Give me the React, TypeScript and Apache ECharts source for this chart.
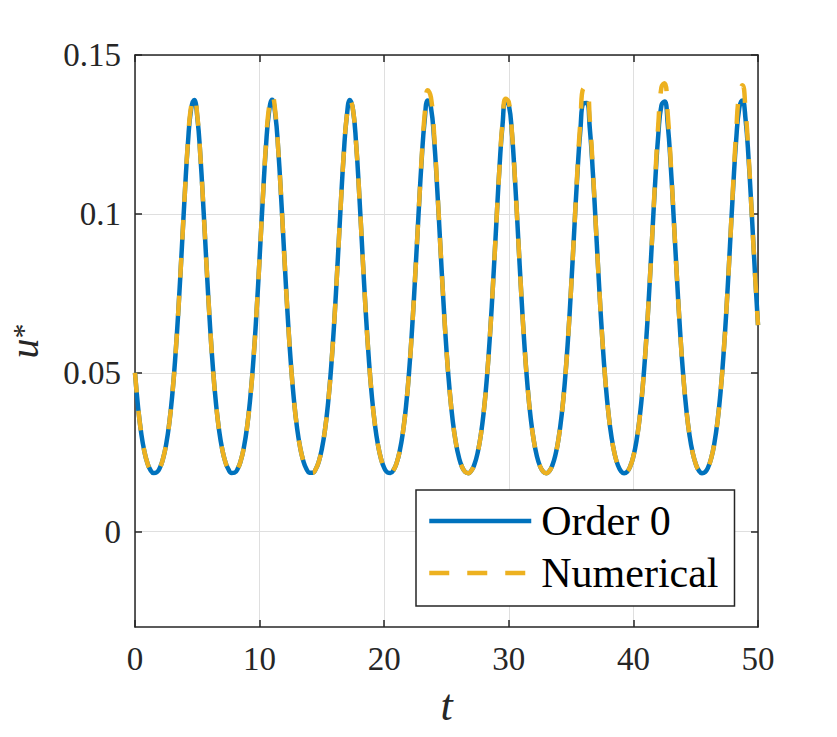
import React, { useEffect, useRef } from "react";
import * as echarts from "echarts";

// Sampling of the time axis (t), one reading every 0.25 from t = 0 to t = 50
const T_START = 0;
const T_STEP = 0.25;

// u* readings, Order 0 (solid blue)
const ORDER0 = [
  0.05, 0.03904, 0.03096, 0.02529, 0.02155, 0.01935, 0.01844, 0.01869, 0.02014, 0.02297,
  0.02749, 0.03413, 0.04342, 0.05571, 0.07101, 0.08855, 0.10657, 0.12236, 0.13289, 0.13582,
  0.13044, 0.11803, 0.10124, 0.08312, 0.06612, 0.05169, 0.04032, 0.03188, 0.02592, 0.02195,
  0.01957, 0.01849, 0.01859, 0.01987, 0.0225, 0.02677, 0.03312, 0.04202, 0.0539, 0.06882,
  0.08614, 0.10424, 0.12051, 0.1319, 0.13591, 0.13161, 0.12001, 0.10362, 0.08551, 0.06825,
  0.05343, 0.04166, 0.03284, 0.02659, 0.02238, 0.01981, 0.01857, 0.01852, 0.01963, 0.02207,
  0.0261, 0.03213, 0.04067, 0.05214, 0.06668, 0.08376, 0.10189, 0.11856, 0.13077, 0.13586,
  0.13264, 0.12188, 0.10596, 0.08791, 0.07043, 0.05523, 0.04304, 0.03386, 0.02729, 0.02284,
  0.02007, 0.01867, 0.01845, 0.01941, 0.02166, 0.02546, 0.0312, 0.03938, 0.05044, 0.06458,
  0.08138, 0.0995, 0.11654, 0.12951, 0.13566, 0.13354, 0.12367, 0.10826, 0.09033, 0.07264,
  0.05707, 0.04448, 0.03492, 0.02803, 0.02333, 0.02035, 0.01878, 0.01842, 0.01922, 0.02128,
  0.02485, 0.03031, 0.03813, 0.0488, 0.06254, 0.07904, 0.0971, 0.11445, 0.12813, 0.1353,
  0.1343, 0.12536, 0.11051, 0.09274, 0.07489, 0.05898, 0.04597, 0.03602, 0.02881, 0.02384,
  0.02066, 0.01892, 0.0184, 0.01904, 0.02093, 0.02427, 0.02946, 0.03694, 0.04721, 0.06054,
  0.07673, 0.09468, 0.11229, 0.12664, 0.1348, 0.13491, 0.12694, 0.11272, 0.09516, 0.07719,
  0.06094, 0.04752, 0.03718, 0.02962, 0.02439, 0.02099, 0.01907, 0.0184, 0.01889, 0.0206,
  0.02374, 0.02865, 0.0358, 0.04567, 0.05859, 0.07444, 0.09226, 0.11007, 0.12503, 0.13416,
  0.13538, 0.12841, 0.11487, 0.09757, 0.0795, 0.06294, 0.04912, 0.03838, 0.03048, 0.02497,
  0.02135, 0.01925, 0.01842, 0.01876, 0.02029, 0.02323, 0.02788, 0.0347, 0.04419, 0.0567,
  0.07219, 0.08983, 0.1078, 0.12332, 0.13337, 0.13571, 0.12977, 0.11695, 0.09998, 0.08186,
  0.065,
];

// u* readings, Numerical (dashed yellow)
const NUMERICAL = [
  0.05, 0.03904, 0.03096, 0.02529, 0.02155, 0.01935, 0.01844, 0.01869, 0.02014, 0.02297,
  0.02749, 0.03413, 0.04342, 0.05571, 0.07101, 0.08855, 0.10657, 0.1228, 0.1337, 0.1366,
  0.1309, 0.11803, 0.10124, 0.08312, 0.06612, 0.05169, 0.04032, 0.03188, 0.02592, 0.02195,
  0.01957, 0.01849, 0.01859, 0.01987, 0.0225, 0.02677, 0.03312, 0.04202, 0.0539, 0.06882,
  0.08614, 0.10424, 0.1213, 0.1334, 0.1374, 0.1325, 0.12001, 0.10362, 0.08551, 0.06825,
  0.05343, 0.04166, 0.03284, 0.02659, 0.02238, 0.01981, 0.01857, 0.01852, 0.01963, 0.02207,
  0.0261, 0.03213, 0.04067, 0.05214, 0.06668, 0.08376, 0.10189, 0.11856, 0.13077, 0.13586,
  0.13264, 0.12188, 0.10596, 0.08791, 0.07043, 0.05523, 0.04304, 0.03386, 0.02729, 0.02284,
  0.02007, 0.01867, 0.01845, 0.01941, 0.02166, 0.02546, 0.0312, 0.03938, 0.05044, 0.06458,
  0.08138, 0.0995, 0.1172, 0.1314, 0.1389, 0.1367, 0.1254, 0.1089, 0.09033, 0.07264,
  0.05707, 0.04448, 0.03492, 0.02803, 0.02333, 0.02035, 0.01878, 0.01842, 0.01922, 0.02128,
  0.02485, 0.03031, 0.03813, 0.0488, 0.06254, 0.07904, 0.0971, 0.11445, 0.1289, 0.1362,
  0.1352, 0.1258, 0.11051, 0.09274, 0.07489, 0.05898, 0.04597, 0.03602, 0.02881, 0.02384,
  0.02066, 0.01892, 0.0184, 0.01904, 0.02093, 0.02427, 0.02946, 0.03694, 0.04721, 0.06054,
  0.07673, 0.09468, 0.1133, 0.1293, 0.1395, 0.1396, 0.1296, 0.1137, 0.09516, 0.07719,
  0.06094, 0.04752, 0.03718, 0.02962, 0.02439, 0.02099, 0.01907, 0.0184, 0.01889, 0.0206,
  0.02374, 0.02865, 0.0358, 0.04567, 0.05859, 0.07444, 0.09226, 0.1112, 0.1282, 0.1398,
  0.1411, 0.1316, 0.116, 0.09757, 0.0795, 0.06294, 0.04912, 0.03838, 0.03048, 0.02497,
  0.02135, 0.01925, 0.01842, 0.01876, 0.02029, 0.02323, 0.02788, 0.0347, 0.04419, 0.0567,
  0.07219, 0.08983, 0.1088, 0.1259, 0.138, 0.1405, 0.1325, 0.118, 0.09998, 0.08186,
  0.065,
];

const SERIES_NAMES = ["Order 0", "Numerical"];
const X_TICKS = [0, 10, 20, 30, 40, 50];
const Y_TICKS = [0, 0.05, 0.1, 0.15];

const FONT = "Liberation Serif";
const AX = "#262626";
const GRID = "#dfdfdf";

export default function App() {
  const ref = useRef<HTMLDivElement>(null);

  useEffect(() => {
    if (!ref.current) return;
    const chart = echarts.init(ref.current, null, { renderer: "svg" });

    const toPairs = (vals: number[]) => vals.map((v, i) => [T_START + i * T_STEP, v]);

    const axisLine = { show: true, onZero: false, lineStyle: { color: AX, width: 1.5 } };
    const tickStyle = { color: AX, width: 1.5 };

    const option: any = {
      animation: false,
      backgroundColor: "#ffffff",
      textStyle: { fontFamily: FONT },
      grid: { left: 135, right: 79, top: 55, bottom: 110, containLabel: false, outerBoundsMode: "none" },
      xAxis: [
        {
          type: "value",
          position: "bottom",
          min: X_TICKS[0],
          max: X_TICKS[X_TICKS.length - 1],
          interval: 10,
          name: "t",
          nameLocation: "middle",
          nameGap: 56,
          nameTextStyle: { fontFamily: FONT, fontStyle: "italic", fontSize: 44, color: AX },
          axisLine,
          axisTick: { show: true, inside: true, length: 7, lineStyle: tickStyle },
          axisLabel: { fontFamily: FONT, fontSize: 33, color: AX, margin: 15 },
          splitLine: { show: true, lineStyle: { color: GRID, width: 1 } },
        },
        {
          type: "value",
          position: "top",
          min: X_TICKS[0],
          max: X_TICKS[X_TICKS.length - 1],
          interval: 10,
          axisLine,
          axisTick: { show: true, inside: true, length: 7, lineStyle: tickStyle },
          axisLabel: { show: false },
          splitLine: { show: false },
        },
      ],
      yAxis: [
        {
          type: "value",
          position: "left",
          min: -0.03,
          max: 0.15,
          name: "{u|u}{s|*}",
          nameLocation: "middle",
          nameRotate: 90,
          nameGap: 94,
          nameTextStyle: {
            color: AX,
            fontFamily: FONT,
            lineHeight: 34,
            rich: {
              u: { fontFamily: FONT, fontStyle: "italic", fontSize: 40, lineHeight: 34, color: AX },
              s: { fontFamily: FONT, fontSize: 30, lineHeight: 34, color: AX, verticalAlign: "top" },
            },
          },
          axisLine,
          axisTick: { show: true, inside: true, length: 7, lineStyle: tickStyle, customValues: Y_TICKS },
          axisLabel: { fontFamily: FONT, fontSize: 33, color: AX, margin: 14, customValues: Y_TICKS },
          splitLine: { show: true, lineStyle: { color: GRID, width: 1 } },
        },
        {
          type: "value",
          position: "right",
          min: -0.03,
          max: 0.15,
          axisLine,
          axisTick: { show: true, inside: true, length: 7, lineStyle: tickStyle, customValues: Y_TICKS },
          axisLabel: { show: false, customValues: Y_TICKS },
          splitLine: { show: false },
        },
      ],
      legend: {
        orient: "vertical",
        left: 416,
        top: 490,
        padding: [10, 16, 12, 11],
        itemWidth: 102,
        itemHeight: 14,
        itemGap: 10,
        backgroundColor: "#ffffff",
        borderColor: AX,
        borderWidth: 1.5,
        borderRadius: 0,
        selectedMode: false,
        data: SERIES_NAMES,
        itemStyle: { color: "rgba(0,0,0,0)", borderWidth: 0 },
        lineStyle: { width: 4.5 },
        textStyle: { fontFamily: FONT, fontSize: 42, lineHeight: 40, color: "#000", padding: [0, 0, 0, 5] },
      },
      series: [
        {
          type: "line",
          name: SERIES_NAMES[0],
          xAxisIndex: 0,
          yAxisIndex: 0,
          data: toPairs(ORDER0),
          symbol: "none",
          showSymbol: false,
          smooth: true,
          z: 2,
          itemStyle: { color: "#0072BD" },
          lineStyle: { color: "#0072BD", width: 4.5, cap: "butt" },
        },
        {
          type: "line",
          name: SERIES_NAMES[1],
          xAxisIndex: 0,
          yAxisIndex: 0,
          data: toPairs(NUMERICAL),
          symbol: "none",
          showSymbol: false,
          smooth: true,
          z: 3,
          itemStyle: { color: "#EDB120" },
          lineStyle: { color: "#EDB120", width: 4.5, type: [20, 18], cap: "butt" },
        },
      ],
    };

    chart.setOption(option);
    return () => chart.dispose();
  }, []);

  return (
    <div
      ref={ref}
      style={{ position: "fixed", left: 0, top: 0, width: 837, height: 737, background: "#ffffff" }}
    />
  );
}
